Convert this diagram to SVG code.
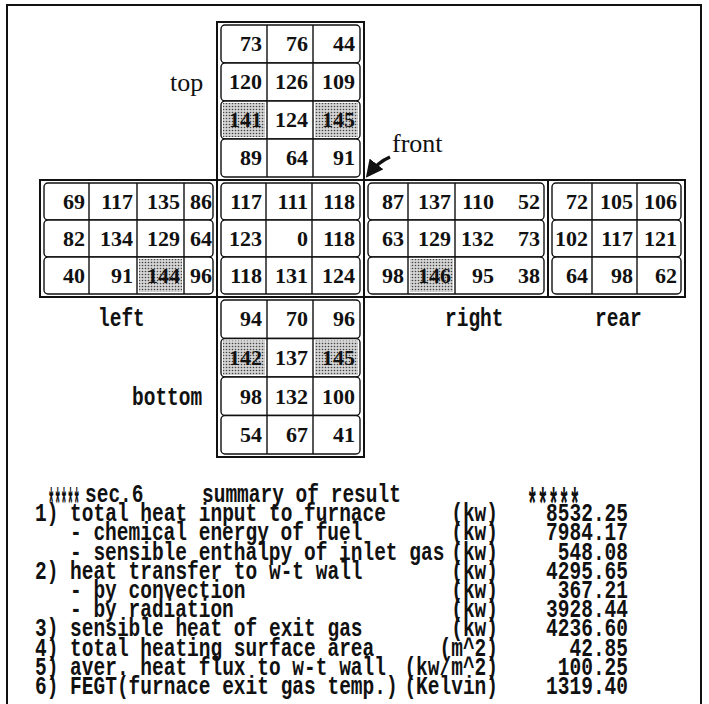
<svg xmlns="http://www.w3.org/2000/svg" width="709" height="704" viewBox="0 0 709 704">
<style>
.frame{fill:none;stroke:#111;stroke-width:2}
.row{fill:#fff;stroke:#111;stroke-width:1.4}
.div{stroke:#111;stroke-width:1.4}
.num{font-family:"Liberation Serif",serif;font-weight:bold;font-size:22px;fill:#111;text-anchor:end}
.lbl{font-family:"Liberation Serif",serif;font-size:26px;fill:#111}
.mono{font-family:"Liberation Mono",monospace;font-weight:bold;font-size:19.5px;fill:#111}
.end{text-anchor:end}
.shade{fill:url(#dots)}
</style>
<defs>
<pattern id="dots" width="3" height="3" patternUnits="userSpaceOnUse">
<rect width="3" height="3" fill="#d4d4d4"/>
<circle cx="1.5" cy="1.5" r="0.8" fill="#444"/>
</pattern>
<marker id="ah" viewBox="0 0 10 10" refX="8" refY="5" markerWidth="5" markerHeight="5" orient="auto">
<path d="M0,0 L10,5 L0,10 Z" fill="#111"/>
</marker>
</defs>
<rect width="709" height="704" fill="#fff"/>
<g id="page-frame">
<path d="M7,704 V5 H701 V704" fill="none" stroke="#111" stroke-width="2"/>
</g>

<g id="face-top">
<rect class="frame" x="217" y="22" width="147" height="158"/>
<rect class="row" x="221" y="25" width="139" height="38" rx="4"/>
<rect class="row" x="221" y="63" width="139" height="38" rx="4"/>
<rect class="row" x="221" y="101" width="139" height="38" rx="4"/>
<rect class="row" x="221" y="139" width="139" height="38" rx="4"/>
<rect class="shade" x="223" y="103" width="42" height="34"/>
<rect class="shade" x="315" y="103" width="43" height="34"/>
<path class="div" d="M267,25V177M313,25V177"/>
<text class="num" x="262" y="51">73</text><text class="num" x="308" y="51">76</text><text class="num" x="355" y="51">44</text>
<text class="num" x="262" y="89">120</text><text class="num" x="308" y="89">126</text><text class="num" x="355" y="89">109</text>
<text class="num" x="262" y="127">141</text><text class="num" x="308" y="127">124</text><text class="num" x="355" y="127">145</text>
<text class="num" x="262" y="165">89</text><text class="num" x="308" y="165">64</text><text class="num" x="355" y="165">91</text>
<text class="lbl" x="170" y="91">top</text>
</g>

<g id="face-left">
<rect class="frame" x="40" y="180" width="177" height="117"/>
<rect class="row" x="44" y="183" width="169" height="37" rx="4"/>
<rect class="row" x="44" y="220" width="169" height="37" rx="4"/>
<rect class="row" x="44" y="257" width="169" height="37" rx="4"/>
<rect class="shade" x="139" y="259" width="43" height="33"/>
<path class="div" d="M89,183V294M137,183V294M184,183V294"/>
<text class="num" x="85" y="209">69</text><text class="num" x="133" y="209">117</text><text class="num" x="180" y="209">135</text><text class="num" x="212" y="209">86</text>
<text class="num" x="85" y="246">82</text><text class="num" x="133" y="246">134</text><text class="num" x="180" y="246">129</text><text class="num" x="212" y="246">64</text>
<text class="num" x="85" y="283">40</text><text class="num" x="133" y="283">91</text><text class="num" x="180" y="283">144</text><text class="num" x="212" y="283">96</text>
<text class="mono" transform="translate(98,326) scale(1,1.3)">left</text>
</g>

<g id="face-front">
<rect class="frame" x="217" y="180" width="147" height="117"/>
<rect class="row" x="221" y="183" width="139" height="37" rx="4"/>
<rect class="row" x="221" y="220" width="139" height="37" rx="4"/>
<rect class="row" x="221" y="257" width="139" height="37" rx="4"/>
<path class="div" d="M266,183V294M312,183V294"/>
<text class="num" x="262" y="209">117</text><text class="num" x="308" y="209">111</text><text class="num" x="355" y="209">118</text>
<text class="num" x="262" y="246">123</text><text class="num" x="308" y="246">0</text><text class="num" x="355" y="246">118</text>
<text class="num" x="262" y="283">118</text><text class="num" x="308" y="283">131</text><text class="num" x="355" y="283">124</text>
<text class="lbl" x="392" y="152">front</text>
</g>

<g id="face-right">
<rect class="frame" x="364" y="180" width="184" height="117"/>
<rect class="row" x="368" y="183" width="176" height="37" rx="4"/>
<rect class="row" x="368" y="220" width="176" height="37" rx="4"/>
<rect class="row" x="368" y="257" width="176" height="37" rx="4"/>
<rect class="shade" x="410" y="259" width="43" height="33"/>
<path class="div" d="M408,183V294M455,183V294"/>
<text class="num" x="404" y="209">87</text><text class="num" x="451" y="209">137</text><text class="num" x="494" y="209">110</text><text class="num" x="540" y="209">52</text>
<text class="num" x="404" y="246">63</text><text class="num" x="451" y="246">129</text><text class="num" x="494" y="246">132</text><text class="num" x="540" y="246">73</text>
<text class="num" x="404" y="283">98</text><text class="num" x="451" y="283">146</text><text class="num" x="494" y="283">95</text><text class="num" x="540" y="283">38</text>
<text class="mono" transform="translate(445,326) scale(1,1.3)">right</text>
</g>

<g id="face-rear">
<rect class="frame" x="548" y="180" width="137" height="117"/>
<rect class="row" x="552" y="183" width="129" height="37" rx="4"/>
<rect class="row" x="552" y="220" width="129" height="37" rx="4"/>
<rect class="row" x="552" y="257" width="129" height="37" rx="4"/>
<path class="div" d="M592,183V294M637,183V294"/>
<text class="num" x="588" y="209">72</text><text class="num" x="633" y="209">105</text><text class="num" x="677" y="209">106</text>
<text class="num" x="588" y="246">102</text><text class="num" x="633" y="246">117</text><text class="num" x="677" y="246">121</text>
<text class="num" x="588" y="283">64</text><text class="num" x="633" y="283">98</text><text class="num" x="677" y="283">62</text>
<text class="mono" transform="translate(595,326) scale(1,1.3)">rear</text>
</g>

<g id="face-bottom">
<rect class="frame" x="217" y="297" width="147" height="160"/>
<rect class="row" x="221" y="300" width="139" height="38.5" rx="4"/>
<rect class="row" x="221" y="338.5" width="139" height="38.5" rx="4"/>
<rect class="row" x="221" y="377" width="139" height="38.5" rx="4"/>
<rect class="row" x="221" y="415.5" width="139" height="38.5" rx="4"/>
<rect class="shade" x="223" y="340.5" width="42" height="34.5"/>
<rect class="shade" x="315" y="340.5" width="43" height="34.5"/>
<path class="div" d="M267,300V454M313,300V454"/>
<text class="num" x="262" y="326">94</text><text class="num" x="308" y="326">70</text><text class="num" x="355" y="326">96</text>
<text class="num" x="262" y="365">142</text><text class="num" x="308" y="365">137</text><text class="num" x="355" y="365">145</text>
<text class="num" x="262" y="404">98</text><text class="num" x="308" y="404">132</text><text class="num" x="355" y="404">100</text>
<text class="num" x="262" y="442">54</text><text class="num" x="308" y="442">67</text><text class="num" x="355" y="442">41</text>
<text class="mono" transform="translate(132,405) scale(1,1.3)">bottom</text>
</g>

<g id="connectors">
<path d="M390,157 Q378,162 368,175" fill="none" stroke="#111" stroke-width="3.5" marker-end="url(#ah)"/>
</g>

<g id="summary">
<text class="mono" transform="scale(1,1.3)"><tspan x="48" y="399" font-size="34" textLength="32" lengthAdjust="spacingAndGlyphs">*****</tspan><tspan x="85" y="386.15">sec.6</tspan><tspan x="202" y="386.15">summary of result</tspan><tspan x="527" y="399" font-size="34" textLength="53" lengthAdjust="spacingAndGlyphs">*****</tspan><tspan x="35" y="400.92">1) total heat input to furnace</tspan><tspan x="498" y="400.92" text-anchor="end">(kw)</tspan><tspan x="628" y="400.92" text-anchor="end">8532.25</tspan><tspan x="70" y="415.69">- chemical energy of fuel</tspan><tspan x="498" y="415.69" text-anchor="end">(kw)</tspan><tspan x="628" y="415.69" text-anchor="end">7984.17</tspan><tspan x="70" y="430.46">- sensible enthalpy of inlet gas</tspan><tspan x="498" y="430.46" text-anchor="end">(kw)</tspan><tspan x="628" y="430.46" text-anchor="end">548.08</tspan><tspan x="35" y="445.23">2) heat transfer to w-t wall</tspan><tspan x="498" y="445.23" text-anchor="end">(kw)</tspan><tspan x="628" y="445.23" text-anchor="end">4295.65</tspan><tspan x="70" y="460">- by convection</tspan><tspan x="498" y="460" text-anchor="end">(kw)</tspan><tspan x="628" y="460" text-anchor="end">367.21</tspan><tspan x="70" y="474.77">- by radiation</tspan><tspan x="498" y="474.77" text-anchor="end">(kw)</tspan><tspan x="628" y="474.77" text-anchor="end">3928.44</tspan><tspan x="35" y="489.54">3) sensible heat of exit gas</tspan><tspan x="498" y="489.54" text-anchor="end">(kw)</tspan><tspan x="628" y="489.54" text-anchor="end">4236.60</tspan><tspan x="35" y="504.31">4) total heating surface area</tspan><tspan x="498" y="504.31" text-anchor="end">(m^2)</tspan><tspan x="628" y="504.31" text-anchor="end">42.85</tspan><tspan x="35" y="519.08">5) aver. heat flux to w-t wall</tspan><tspan x="498" y="519.08" text-anchor="end">(kw/m^2)</tspan><tspan x="628" y="519.08" text-anchor="end">100.25</tspan><tspan x="35" y="533.85">6) FEGT(furnace exit gas temp.)</tspan><tspan x="498" y="533.85" text-anchor="end">(Kelvin)</tspan><tspan x="628" y="533.85" text-anchor="end">1319.40</tspan></text>
</g>
</svg>
